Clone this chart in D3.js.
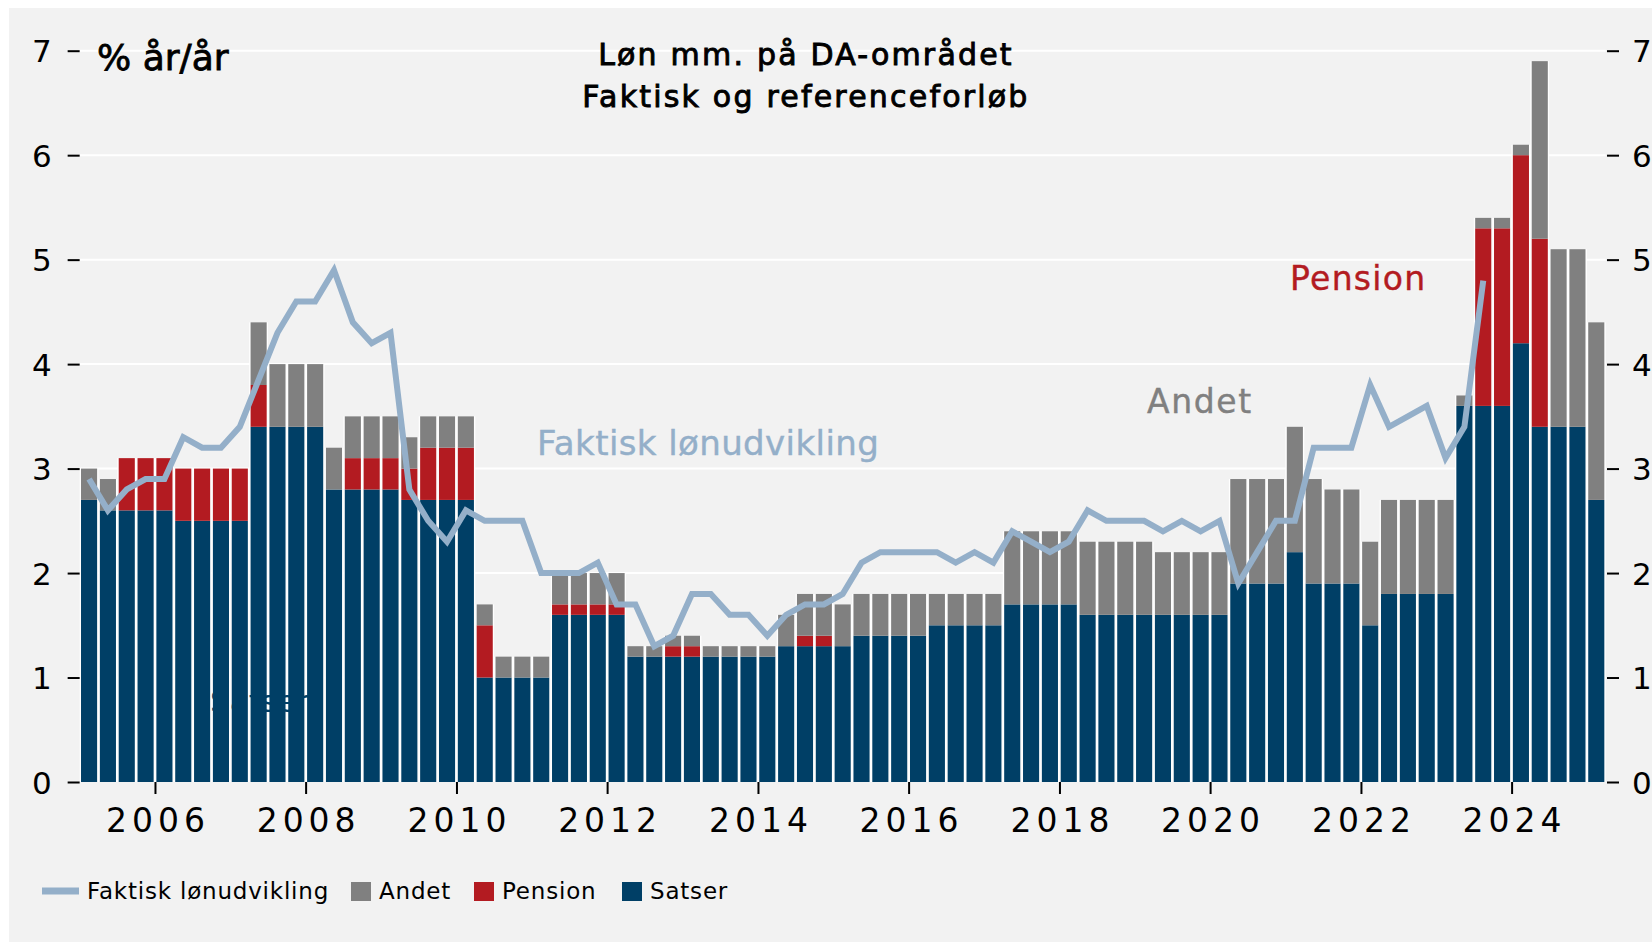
<!DOCTYPE html>
<html>
<head>
<meta charset="utf-8">
<script src="https://cdn.jsdelivr.net/npm/d3@7/dist/d3.min.js"></script>
<style>
  html, body { margin: 0; padding: 0; background: #fff; }
  svg text { font-family: "DejaVu Sans", sans-serif; }
</style>
</head>
<body>
<div id="chart"></div>
<script>
// kvartaler 2005K1 - 2025K1
const startAar = 2005;
const kvartaler = [];
for (let i = 0; i < 81; i++) kvartaler.push(`${startAar + Math.floor(i / 4)}K${(i % 4) + 1}`);

const satser = [
  2.7, 2.6, 2.6, 2.6, 2.6, 2.5, 2.5, 2.5, 2.5, 3.4, 3.4, 3.4, 3.4, 2.8, 2.8, 2.8,
  2.8, 2.7, 2.7, 2.7, 2.7, 1.0, 1.0, 1.0, 1.0, 1.6, 1.6, 1.6, 1.6, 1.2, 1.2, 1.2,
  1.2, 1.2, 1.2, 1.2, 1.2, 1.3, 1.3, 1.3, 1.3, 1.4, 1.4, 1.4, 1.4, 1.5, 1.5, 1.5,
  1.5, 1.7, 1.7, 1.7, 1.7, 1.6, 1.6, 1.6, 1.6, 1.6, 1.6, 1.6, 1.6, 1.9, 1.9, 1.9,
  2.2, 1.9, 1.9, 1.9, 1.5, 1.8, 1.8, 1.8, 1.8, 3.6, 3.6, 3.6, 4.2, 3.4, 3.4, 3.4,
  2.7
];
const pension = [
  0, 0, 0.5, 0.5, 0.5, 0.5, 0.5, 0.5, 0.5, 0.4, 0, 0, 0, 0, 0.3, 0.3,
  0.3, 0.3, 0.5, 0.5, 0.5, 0.5, 0, 0, 0, 0.1, 0.1, 0.1, 0.1, 0, 0, 0.1,
  0.1, 0, 0, 0, 0, 0, 0.1, 0.1, 0, 0, 0, 0, 0, 0, 0, 0,
  0, 0, 0, 0, 0, 0, 0, 0, 0, 0, 0, 0, 0, 0, 0, 0,
  0, 0, 0, 0, 0, 0, 0, 0, 0, 0, 1.7, 1.7, 1.8, 1.8, 0, 0,
  0
];
const andet = [
  0.3, 0.3, 0, 0, 0, 0, 0, 0, 0, 0.6, 0.6, 0.6, 0.6, 0.4, 0.4, 0.4,
  0.4, 0.3, 0.3, 0.3, 0.3, 0.2, 0.2, 0.2, 0.2, 0.3, 0.3, 0.3, 0.3, 0.1, 0.1, 0.1,
  0.1, 0.1, 0.1, 0.1, 0.1, 0.3, 0.4, 0.4, 0.4, 0.4, 0.4, 0.4, 0.4, 0.3, 0.3, 0.3,
  0.3, 0.7, 0.7, 0.7, 0.7, 0.7, 0.7, 0.7, 0.7, 0.6, 0.6, 0.6, 0.6, 1.0, 1.0, 1.0,
  1.2, 1.0, 0.9, 0.9, 0.8, 0.9, 0.9, 0.9, 0.9, 0.1, 0.1, 0.1, 0.1, 1.7, 1.7, 1.7,
  1.7
];
// faktisk lønudvikling, 2005K1 - 2023K3
const faktisk = [
  2.9, 2.6, 2.8, 2.9, 2.9, 3.3, 3.2, 3.2, 3.4, 3.85, 4.3, 4.6, 4.6, 4.9, 4.4, 4.2,
  4.3, 2.8, 2.5, 2.3, 2.6, 2.5, 2.5, 2.5, 2.0, 2.0, 2.0, 2.1, 1.7, 1.7, 1.3, 1.4,
  1.8, 1.8, 1.6, 1.6, 1.4, 1.6, 1.7, 1.7, 1.8, 2.1, 2.2, 2.2, 2.2, 2.2, 2.1, 2.2,
  2.1, 2.4, 2.3, 2.2, 2.3, 2.6, 2.5, 2.5, 2.5, 2.4, 2.5, 2.4, 2.5, 1.9, 2.2, 2.5,
  2.5, 3.2, 3.2, 3.2, 3.8, 3.4, 3.5, 3.6, 3.1, 3.4, 4.8
];
const yTicks = [0, 1, 2, 3, 4, 5, 6, 7];
const xTickAar = [2006, 2008, 2010, 2012, 2014, 2016, 2018, 2020, 2022, 2024];
const serier = ["Satser", "Pension", "Andet"];
const farver = { Satser: "#003f66", Pension: "#b31b21", Andet: "#808080", Faktisk: "#94afc9" };

const bredde = 1652, hoejde = 943;
const x0 = 79.65, x1 = 1605.7;
const yBund = 782, yTop = 50.7;

const svg = d3.select("#chart").append("svg")
  .attr("width", bredde)
  .attr("height", hoejde);

svg.append("rect").attr("x", 9).attr("y", 8)
  .attr("width", bredde - 9).attr("height", hoejde - 9)
  .attr("fill", "#f2f2f2");

const x = d3.scaleBand().domain(kvartaler).range([x0, x1])
  .paddingInner(0.145).paddingOuter(0.0725);
const xTid = d3.scaleTime()
  .domain([new Date(2005, 0, 1), new Date(2025, 3, 1)])
  .range([x0, x1]);
const y = d3.scaleLinear().domain([0, 7]).range([yBund, yTop]);

// gitterlinjer
svg.append("g").selectAll("line")
  .data(yTicks.filter(d => d > 0))
  .enter().append("line")
  .attr("x1", x0).attr("x2", x1)
  .attr("y1", d => y(d)).attr("y2", d => y(d))
  .attr("stroke", "#fff").attr("stroke-width", 2);

// stablede søjler
const data = kvartaler.map((k, i) => ({ k, Satser: satser[i], Pension: pension[i], Andet: andet[i] }));
const stak = d3.stack().keys(serier)(data);

const gap = x.step() - x.bandwidth();
svg.append("g").selectAll("rect")
  .data(data)
  .enter().append("rect")
  .attr("x", d => x(d.k) - gap / 2)
  .attr("width", x.bandwidth() + gap)
  .attr("y", d => y(d.Satser + d.Pension + d.Andet))
  .attr("height", d => yBund - y(d.Satser + d.Pension + d.Andet))
  .attr("fill", "#fff");

svg.append("g").selectAll("g")
  .data(stak)
  .enter().append("g")
  .attr("fill", s => farver[s.key])
  .selectAll("rect")
  .data(s => s)
  .enter().append("rect")
  .attr("x", d => x(d.data.k))
  .attr("width", x.bandwidth())
  .attr("y", d => y(d[1]))
  .attr("height", d => y(d[0]) - y(d[1]));

// "Satser" tekst i søjlefarven
svg.append("text")
  .attr("x", 210).attr("y", 712)
  .attr("font-size", 31).attr("fill", farver.Satser)
  .text("Satser");

// linje
const linje = d3.line()
  .x((d, i) => x(kvartaler[i]) + x.bandwidth() / 2)
  .y(d => y(d));
svg.append("path")
  .datum(faktisk)
  .attr("d", linje)
  .attr("fill", "none")
  .attr("stroke", farver.Faktisk)
  .attr("stroke-width", 6)
  .attr("stroke-linejoin", "miter");

// akser
const yVenstre = svg.append("g")
  .attr("transform", `translate(${x0},0)`)
  .call(d3.axisLeft(y).tickValues(yTicks).tickSize(12).tickPadding(16).tickFormat(d3.format("d")));
const yHoejre = svg.append("g")
  .attr("transform", `translate(${x1 + 1.3},0)`)
  .call(d3.axisRight(y).tickValues(yTicks).tickSize(12).tickPadding(13).tickFormat(d3.format("d")));
[yVenstre, yHoejre].forEach(g => {
  g.select(".domain").remove();
  g.selectAll(".tick line").attr("stroke", "#000").attr("stroke-width", 2);
  g.selectAll(".tick text").attr("font-size", 31).attr("fill", "#000")
    .attr("font-family", "DejaVu Sans").attr("dy", "0.36em");
});

const xAkse = svg.append("g")
  .attr("transform", `translate(0,${yBund})`)
  .call(d3.axisBottom(xTid)
    .tickValues(xTickAar.map(a => new Date(a, 0, 1)))
    .tickSize(12).tickPadding(14.6)
    .tickFormat(d3.timeFormat("%Y")));
xAkse.select(".domain").remove();
xAkse.selectAll(".tick line").attr("stroke", "#000").attr("stroke-width", 2);
xAkse.selectAll(".tick text").attr("font-size", 33).attr("fill", "#000")
  .attr("font-family", "DejaVu Sans")
  .attr("letter-spacing", 5).attr("dx", 2.5);

// titel
const titel = svg.append("text")
  .attr("x", 806).attr("text-anchor", "middle")
  .attr("font-size", 30).attr("letter-spacing", 2.2)
  .attr("fill", "#000").attr("stroke", "#000").attr("stroke-width", 0.9);
titel.append("tspan").attr("x", 806).attr("y", 65).text("Løn mm. på DA-området");
titel.append("tspan").attr("x", 806).attr("y", 107).text("Faktisk og referenceforløb");

svg.append("text")
  .attr("x", 97).attr("y", 70)
  .attr("font-size", 36).attr("fill", "#000")
  .attr("stroke", "#000").attr("stroke-width", 0.8)
  .text("% år/år");

// etiketter i grafen
const etiketter = [
  { tekst: "Faktisk lønudvikling", x: 537, y: 455, farve: farver.Faktisk, ls: 0.4, fs: 34 },
  { tekst: "Andet", x: 1147, y: 413, farve: farver.Andet, ls: 1.6, fs: 33 },
  { tekst: "Pension", x: 1290, y: 290, farve: farver.Pension, ls: 1.3, fs: 33 }
];
svg.append("g").selectAll("text")
  .data(etiketter)
  .enter().append("text")
  .attr("x", d => d.x).attr("y", d => d.y)
  .attr("font-size", d => d.fs)
  .attr("letter-spacing", d => d.ls)
  .attr("fill", d => d.farve)
  .attr("stroke", d => d.farve).attr("stroke-width", 0.4)
  .text(d => d.tekst);

// forklaring
const leg = svg.append("g").attr("font-size", 23).attr("letter-spacing", 0.8);
leg.append("line").attr("x1", 42).attr("x2", 79).attr("y1", 891).attr("y2", 891)
  .attr("stroke", farver.Faktisk).attr("stroke-width", 7);
leg.append("text").attr("x", 87).attr("y", 898.5).text("Faktisk lønudvikling");
const kasser = [
  { navn: "Andet", x: 351, tx: 379 },
  { navn: "Pension", x: 474, tx: 502 },
  { navn: "Satser", x: 622, tx: 650 }
];
kasser.forEach(k => {
  leg.append("rect").attr("x", k.x).attr("y", 882).attr("width", 20).attr("height", 19)
    .attr("fill", farver[k.navn]);
  leg.append("text").attr("x", k.tx).attr("y", 898.5).text(k.navn);
});
</script>
</body>
</html>
